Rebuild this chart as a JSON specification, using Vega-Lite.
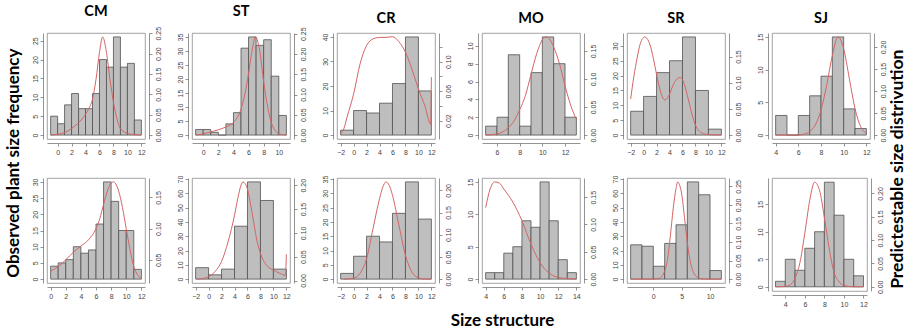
{
"$schema": "https://vega.github.io/schema/vega-lite/v6.json",
"padding": {"left": 3, "top": 3, "right": 4, "bottom": 2},
"background": "white",
"datasets": {
"bars": [
{"p":"CM1","a":-1,"b":0,"n":5},{"p":"CM1","a":0,"b":1,"n":3},{"p":"CM1","a":1,"b":2,"n":8},{"p":"CM1","a":2,"b":3,"n":11},{"p":"CM1","a":3,"b":4,"n":7},{"p":"CM1","a":4,"b":5,"n":7},{"p":"CM1","a":5,"b":6,"n":11},{"p":"CM1","a":6,"b":7,"n":20},{"p":"CM1","a":7,"b":8,"n":18},{"p":"CM1","a":8,"b":9,"n":26},{"p":"CM1","a":9,"b":10,"n":18},{"p":"CM1","a":10,"b":11,"n":19},{"p":"CM1","a":11,"b":12,"n":4},
{"p":"ST1","a":-1,"b":0,"n":2},{"p":"ST1","a":0,"b":1,"n":2},{"p":"ST1","a":1,"b":2,"n":1},{"p":"ST1","a":2,"b":3,"n":0},{"p":"ST1","a":3,"b":4,"n":4},{"p":"ST1","a":4,"b":5,"n":8},{"p":"ST1","a":5,"b":6,"n":31},{"p":"ST1","a":6,"b":7,"n":35},{"p":"ST1","a":7,"b":8,"n":32},{"p":"ST1","a":8,"b":9,"n":34},{"p":"ST1","a":9,"b":10,"n":21},{"p":"ST1","a":10,"b":11,"n":7},
{"p":"CR1","a":-2,"b":0,"n":2},{"p":"CR1","a":0,"b":2,"n":10},{"p":"CR1","a":2,"b":4,"n":9},{"p":"CR1","a":4,"b":6,"n":13},{"p":"CR1","a":6,"b":8,"n":21},{"p":"CR1","a":8,"b":10,"n":40},{"p":"CR1","a":10,"b":12,"n":18},
{"p":"MO1","a":5,"b":6,"n":1},{"p":"MO1","a":6,"b":7,"n":2},{"p":"MO1","a":7,"b":8,"n":9},{"p":"MO1","a":8,"b":9,"n":1},{"p":"MO1","a":9,"b":10,"n":7},{"p":"MO1","a":10,"b":11,"n":11},{"p":"MO1","a":11,"b":12,"n":8},{"p":"MO1","a":12,"b":13,"n":2},
{"p":"SR1","a":-2,"b":0,"n":8},{"p":"SR1","a":0,"b":2,"n":13},{"p":"SR1","a":2,"b":4,"n":21},{"p":"SR1","a":4,"b":6,"n":25},{"p":"SR1","a":6,"b":8,"n":33},{"p":"SR1","a":8,"b":10,"n":15},{"p":"SR1","a":10,"b":12,"n":2},
{"p":"SJ1","a":4,"b":5,"n":3},{"p":"SJ1","a":5,"b":6,"n":0},{"p":"SJ1","a":6,"b":7,"n":3},{"p":"SJ1","a":7,"b":8,"n":6},{"p":"SJ1","a":8,"b":9,"n":9},{"p":"SJ1","a":9,"b":10,"n":15},{"p":"SJ1","a":10,"b":11,"n":4},{"p":"SJ1","a":11,"b":12,"n":1},
{"p":"CM2","a":0,"b":1,"n":4},{"p":"CM2","a":1,"b":2,"n":5},{"p":"CM2","a":2,"b":3,"n":6},{"p":"CM2","a":3,"b":4,"n":10},{"p":"CM2","a":4,"b":5,"n":8},{"p":"CM2","a":5,"b":6,"n":9},{"p":"CM2","a":6,"b":7,"n":17},{"p":"CM2","a":7,"b":8,"n":30},{"p":"CM2","a":8,"b":9,"n":24},{"p":"CM2","a":9,"b":10,"n":15},{"p":"CM2","a":10,"b":11,"n":15},{"p":"CM2","a":11,"b":12,"n":3},
{"p":"ST2","a":-2,"b":0,"n":8},{"p":"ST2","a":0,"b":2,"n":3},{"p":"ST2","a":2,"b":4,"n":7},{"p":"ST2","a":4,"b":6,"n":37},{"p":"ST2","a":6,"b":8,"n":68},{"p":"ST2","a":8,"b":10,"n":55},{"p":"ST2","a":10,"b":12,"n":7},
{"p":"CR2","a":-2,"b":0,"n":2},{"p":"CR2","a":0,"b":2,"n":8},{"p":"CR2","a":2,"b":4,"n":15},{"p":"CR2","a":4,"b":6,"n":13},{"p":"CR2","a":6,"b":8,"n":23},{"p":"CR2","a":8,"b":10,"n":34},{"p":"CR2","a":10,"b":12,"n":21},
{"p":"MO2","a":4,"b":5,"n":1},{"p":"MO2","a":5,"b":6,"n":1},{"p":"MO2","a":6,"b":7,"n":4},{"p":"MO2","a":7,"b":8,"n":5},{"p":"MO2","a":8,"b":9,"n":9},{"p":"MO2","a":9,"b":10,"n":8},{"p":"MO2","a":10,"b":11,"n":15},{"p":"MO2","a":11,"b":12,"n":9},{"p":"MO2","a":12,"b":13,"n":3},{"p":"MO2","a":13,"b":14,"n":1},
{"p":"SR2","a":-4,"b":-2,"n":24},{"p":"SR2","a":-2,"b":0,"n":23},{"p":"SR2","a":0,"b":2,"n":9},{"p":"SR2","a":2,"b":4,"n":25},{"p":"SR2","a":4,"b":6,"n":38},{"p":"SR2","a":6,"b":8,"n":68},{"p":"SR2","a":8,"b":10,"n":59},{"p":"SR2","a":10,"b":12,"n":6},
{"p":"SJ2","a":3,"b":4,"n":1},{"p":"SJ2","a":4,"b":5,"n":5},{"p":"SJ2","a":5,"b":6,"n":3},{"p":"SJ2","a":6,"b":7,"n":7},{"p":"SJ2","a":7,"b":8,"n":10},{"p":"SJ2","a":8,"b":9,"n":19},{"p":"SJ2","a":9,"b":10,"n":13},{"p":"SJ2","a":10,"b":11,"n":5},{"p":"SJ2","a":11,"b":12,"n":2}
],
"dens": [
{"p":"CM1","x":-1,"d":0.0},{"p":"CM1","x":0,"d":0.002},{"p":"CM1","x":1,"d":0.006},{"p":"CM1","x":2,"d":0.016},{"p":"CM1","x":3,"d":0.03},{"p":"CM1","x":4,"d":0.051},{"p":"CM1","x":4.5,"d":0.066},{"p":"CM1","x":5,"d":0.088},{"p":"CM1","x":5.5,"d":0.137},{"p":"CM1","x":6,"d":0.203},{"p":"CM1","x":6.45,"d":0.241},{"p":"CM1","x":7,"d":0.203},{"p":"CM1","x":7.5,"d":0.137},{"p":"CM1","x":8,"d":0.081},{"p":"CM1","x":8.5,"d":0.04},{"p":"CM1","x":9,"d":0.016},{"p":"CM1","x":10,"d":0.004},{"p":"CM1","x":11,"d":0.001},{"p":"CM1","x":12,"d":0.0},
{"p":"ST1","x":-1,"d":0.0},{"p":"ST1","x":0,"d":0.003},{"p":"ST1","x":1,"d":0.008},{"p":"ST1","x":2,"d":0.013},{"p":"ST1","x":3,"d":0.02},{"p":"ST1","x":4,"d":0.031},{"p":"ST1","x":5,"d":0.064},{"p":"ST1","x":5.5,"d":0.1},{"p":"ST1","x":6,"d":0.152},{"p":"ST1","x":6.5,"d":0.212},{"p":"ST1","x":6.9,"d":0.242},{"p":"ST1","x":7.5,"d":0.205},{"p":"ST1","x":8,"d":0.131},{"p":"ST1","x":8.5,"d":0.072},{"p":"ST1","x":9,"d":0.031},{"p":"ST1","x":9.5,"d":0.012},{"p":"ST1","x":10,"d":0.003},{"p":"ST1","x":11,"d":0.0},
{"p":"CR1","x":-2,"d":0.002},{"p":"CR1","x":-1.5,"d":0.009},{"p":"CR1","x":-1,"d":0.025},{"p":"CR1","x":0,"d":0.056},{"p":"CR1","x":1,"d":0.097},{"p":"CR1","x":2,"d":0.122},{"p":"CR1","x":3,"d":0.131},{"p":"CR1","x":4,"d":0.133},{"p":"CR1","x":5,"d":0.133},{"p":"CR1","x":6,"d":0.134},{"p":"CR1","x":7,"d":0.127},{"p":"CR1","x":8,"d":0.113},{"p":"CR1","x":9,"d":0.09},{"p":"CR1","x":10,"d":0.063},{"p":"CR1","x":11,"d":0.04},{"p":"CR1","x":11.9,"d":0.015},{"p":"CR1","x":12,"d":0.079},
{"p":"MO1","x":5,"d":0.0},{"p":"MO1","x":6,"d":0.002},{"p":"MO1","x":7,"d":0.013},{"p":"MO1","x":7.5,"d":0.025},{"p":"MO1","x":8,"d":0.045},{"p":"MO1","x":8.5,"d":0.07},{"p":"MO1","x":9,"d":0.108},{"p":"MO1","x":9.5,"d":0.145},{"p":"MO1","x":10,"d":0.17},{"p":"MO1","x":10.3,"d":0.175},{"p":"MO1","x":10.6,"d":0.172},{"p":"MO1","x":11,"d":0.157},{"p":"MO1","x":11.5,"d":0.128},{"p":"MO1","x":12,"d":0.088},{"p":"MO1","x":12.5,"d":0.053},{"p":"MO1","x":13,"d":0.028},
{"p":"SR1","x":-2,"d":0.069},{"p":"SR1","x":-1.5,"d":0.112},{"p":"SR1","x":-1,"d":0.147},{"p":"SR1","x":-0.5,"d":0.175},{"p":"SR1","x":0.2,"d":0.1875},{"p":"SR1","x":0.5,"d":0.185},{"p":"SR1","x":1,"d":0.172},{"p":"SR1","x":1.5,"d":0.147},{"p":"SR1","x":2,"d":0.116},{"p":"SR1","x":2.5,"d":0.088},{"p":"SR1","x":3,"d":0.07},{"p":"SR1","x":3.3,"d":0.067},{"p":"SR1","x":4,"d":0.078},{"p":"SR1","x":4.5,"d":0.094},{"p":"SR1","x":5,"d":0.105},{"p":"SR1","x":5.6,"d":0.11},{"p":"SR1","x":6,"d":0.106},{"p":"SR1","x":6.5,"d":0.088},{"p":"SR1","x":7,"d":0.063},{"p":"SR1","x":7.5,"d":0.038},{"p":"SR1","x":8,"d":0.019},{"p":"SR1","x":9,"d":0.004},{"p":"SR1","x":10,"d":0.001},{"p":"SR1","x":12,"d":0.0},
{"p":"SJ1","x":4,"d":0.0},{"p":"SJ1","x":6,"d":0.0},{"p":"SJ1","x":6.5,"d":0.002},{"p":"SJ1","x":7,"d":0.008},{"p":"SJ1","x":7.5,"d":0.023},{"p":"SJ1","x":8,"d":0.057},{"p":"SJ1","x":8.5,"d":0.113},{"p":"SJ1","x":9,"d":0.181},{"p":"SJ1","x":9.5,"d":0.223},{"p":"SJ1","x":10,"d":0.196},{"p":"SJ1","x":10.5,"d":0.128},{"p":"SJ1","x":11,"d":0.06},{"p":"SJ1","x":11.5,"d":0.019},{"p":"SJ1","x":12,"d":0.004},
{"p":"CM2","x":0,"d":0.032},{"p":"CM2","x":1,"d":0.039},{"p":"CM2","x":2,"d":0.05},{"p":"CM2","x":3,"d":0.062},{"p":"CM2","x":4,"d":0.072},{"p":"CM2","x":5,"d":0.082},{"p":"CM2","x":6,"d":0.1},{"p":"CM2","x":6.5,"d":0.116},{"p":"CM2","x":7,"d":0.139},{"p":"CM2","x":7.5,"d":0.16},{"p":"CM2","x":8,"d":0.173},{"p":"CM2","x":8.3,"d":0.175},{"p":"CM2","x":8.6,"d":0.172},{"p":"CM2","x":9,"d":0.16},{"p":"CM2","x":9.5,"d":0.134},{"p":"CM2","x":10,"d":0.1},{"p":"CM2","x":10.5,"d":0.066},{"p":"CM2","x":11,"d":0.039},{"p":"CM2","x":11.5,"d":0.026},{"p":"CM2","x":12,"d":0.019},
{"p":"ST2","x":-1.8,"d":0.003},{"p":"ST2","x":-1,"d":0.004},{"p":"ST2","x":0,"d":0.008},{"p":"ST2","x":1,"d":0.019},{"p":"ST2","x":2,"d":0.04},{"p":"ST2","x":3,"d":0.081},{"p":"ST2","x":4,"d":0.137},{"p":"ST2","x":4.5,"d":0.172},{"p":"ST2","x":5,"d":0.2},{"p":"ST2","x":5.3,"d":0.207},{"p":"ST2","x":5.6,"d":0.204},{"p":"ST2","x":6,"d":0.192},{"p":"ST2","x":6.5,"d":0.158},{"p":"ST2","x":7,"d":0.119},{"p":"ST2","x":7.5,"d":0.081},{"p":"ST2","x":8,"d":0.057},{"p":"ST2","x":9,"d":0.031},{"p":"ST2","x":10,"d":0.022},{"p":"ST2","x":11,"d":0.015},{"p":"ST2","x":11.85,"d":0.011},{"p":"ST2","x":12,"d":0.055},
{"p":"CR2","x":-1.5,"d":0.0},{"p":"CR2","x":0,"d":0.002},{"p":"CR2","x":1,"d":0.013},{"p":"CR2","x":2,"d":0.046},{"p":"CR2","x":3,"d":0.114},{"p":"CR2","x":4,"d":0.181},{"p":"CR2","x":4.5,"d":0.207},{"p":"CR2","x":5,"d":0.219},{"p":"CR2","x":5.5,"d":0.211},{"p":"CR2","x":6,"d":0.189},{"p":"CR2","x":7,"d":0.121},{"p":"CR2","x":8,"d":0.054},{"p":"CR2","x":9,"d":0.016},{"p":"CR2","x":10,"d":0.003},{"p":"CR2","x":11,"d":0.0},{"p":"CR2","x":12,"d":0.0},
{"p":"MO2","x":4,"d":0.131},{"p":"MO2","x":4.5,"d":0.165},{"p":"MO2","x":5,"d":0.178},{"p":"MO2","x":5.5,"d":0.176},{"p":"MO2","x":6,"d":0.165},{"p":"MO2","x":7,"d":0.141},{"p":"MO2","x":8,"d":0.107},{"p":"MO2","x":9,"d":0.064},{"p":"MO2","x":10,"d":0.03},{"p":"MO2","x":11,"d":0.011},{"p":"MO2","x":12,"d":0.003},{"p":"MO2","x":13,"d":0.001},{"p":"MO2","x":14,"d":0.0},
{"p":"SR2","x":-4,"d":0.0},{"p":"SR2","x":0,"d":0.0},{"p":"SR2","x":1,"d":0.002},{"p":"SR2","x":2,"d":0.021},{"p":"SR2","x":2.5,"d":0.053},{"p":"SR2","x":3,"d":0.116},{"p":"SR2","x":3.5,"d":0.189},{"p":"SR2","x":4,"d":0.244},{"p":"SR2","x":4.3,"d":0.262},{"p":"SR2","x":4.6,"d":0.255},{"p":"SR2","x":5,"d":0.23},{"p":"SR2","x":5.5,"d":0.166},{"p":"SR2","x":6,"d":0.098},{"p":"SR2","x":6.5,"d":0.048},{"p":"SR2","x":7,"d":0.021},{"p":"SR2","x":8,"d":0.003},{"p":"SR2","x":9,"d":0.0},{"p":"SR2","x":12,"d":0.0},
{"p":"SJ2","x":3,"d":0.0},{"p":"SJ2","x":4,"d":0.001},{"p":"SJ2","x":4.5,"d":0.004},{"p":"SJ2","x":5,"d":0.019},{"p":"SJ2","x":5.5,"d":0.052},{"p":"SJ2","x":6,"d":0.115},{"p":"SJ2","x":6.5,"d":0.185},{"p":"SJ2","x":7,"d":0.224},{"p":"SJ2","x":7.5,"d":0.207},{"p":"SJ2","x":8,"d":0.148},{"p":"SJ2","x":8.5,"d":0.081},{"p":"SJ2","x":9,"d":0.03},{"p":"SJ2","x":9.5,"d":0.011},{"p":"SJ2","x":10,"d":0.003},{"p":"SJ2","x":11,"d":0.0},{"p":"SJ2","x":12,"d":0.0}
]
},
"columns": 6,
"spacing": {"row": 39, "column": 47},
"bounds": "flush",
"concat": [
{"width": 98, "height": 106, "title": {"text": "CM"},
 "layer": [
  {"data": {"name": "bars"}, "transform": [{"filter": "datum.p==='CM1'"}], "mark": {"type": "rect", "fill": "#bebebe", "stroke": "#505050", "strokeWidth": 0.8},
   "encoding": {"x": {"field": "a", "type": "quantitative", "title": null, "scale": {"domain": [-1.52, 12.52], "nice": false, "zero": false}, "axis": {"values": [0,2,4,6,8,10,12], "labelOverlap": false}}, "x2": {"field": "b"},
    "y": {"field": "n", "type": "quantitative", "title": "Observed plant size frequency", "scale": {"domain": [-1.04, 27.04], "nice": false, "zero": false}, "axis": {"values": [0,5,10,15,20,25], "titleAnchor": "end", "titleAlign": "right", "titleAngle": 270, "titleY": 15, "titlePadding": 9, "titleFont": "Lato", "titleFontSize": 17, "titleFontWeight": "bold", "titleColor": "#000000"}}, "y2": {"datum": 0}}},
  {"data": {"name": "dens"}, "transform": [{"filter": "datum.p==='CM1'"}], "mark": {"type": "line", "stroke": "#d46565", "strokeWidth": 1, "interpolate": "monotone", "clip": true},
   "encoding": {"x": {"field": "x", "type": "quantitative", "title": null, "scale": {"domain": [-1.52, 12.52], "nice": false, "zero": false}, "axis": {"values": [0,2,4,6,8,10,12], "labelOverlap": false}},
    "y": {"field": "d", "type": "quantitative", "title": null, "scale": {"domain": [-0.0097, 0.2507], "nice": false, "zero": false}, "axis": {"orient": "right", "values": [0,0.05,0.1,0.15,0.2,0.25], "format": ".2f"}}}}
 ], "resolve": {"scale": {"y": "independent"}}},
{"width": 98, "height": 106, "title": {"text": "ST"},
 "layer": [
  {"data": {"name": "bars"}, "transform": [{"filter": "datum.p==='ST1'"}], "mark": {"type": "rect", "fill": "#bebebe", "stroke": "#505050", "strokeWidth": 0.8},
   "encoding": {"x": {"field": "a", "type": "quantitative", "title": null, "scale": {"domain": [-1.48, 11.48], "nice": false, "zero": false}, "axis": {"values": [0,2,4,6,8,10], "labelOverlap": false}}, "x2": {"field": "b"},
    "y": {"field": "n", "type": "quantitative", "title": null, "scale": {"domain": [-1.4, 36.4], "nice": false, "zero": false}, "axis": {"values": [0,5,10,15,20,25,30,35]}}, "y2": {"datum": 0}}},
  {"data": {"name": "dens"}, "transform": [{"filter": "datum.p==='ST1'"}], "mark": {"type": "line", "stroke": "#d46565", "strokeWidth": 1, "interpolate": "monotone", "clip": true},
   "encoding": {"x": {"field": "x", "type": "quantitative", "title": null, "scale": {"domain": [-1.48, 11.48], "nice": false, "zero": false}, "axis": {"values": [0,2,4,6,8,10], "labelOverlap": false}},
    "y": {"field": "d", "type": "quantitative", "title": null, "scale": {"domain": [-0.0097, 0.2517], "nice": false, "zero": false}, "axis": {"orient": "right", "values": [0,0.05,0.1,0.15,0.2,0.25], "format": ".2f"}}}}
 ], "resolve": {"scale": {"y": "independent"}}},
{"width": 98, "height": 106, "title": {"text": "CR"},
 "layer": [
  {"data": {"name": "bars"}, "transform": [{"filter": "datum.p==='CR1'"}], "mark": {"type": "rect", "fill": "#bebebe", "stroke": "#505050", "strokeWidth": 0.8},
   "encoding": {"x": {"field": "a", "type": "quantitative", "title": null, "scale": {"domain": [-2.56, 12.56], "nice": false, "zero": false}, "axis": {"values": [-2,0,2,4,6,8,10,12], "labelOverlap": false}}, "x2": {"field": "b"},
    "y": {"field": "n", "type": "quantitative", "title": null, "scale": {"domain": [-1.6, 41.6], "nice": false, "zero": false}, "axis": {"values": [0,10,20,30,40]}}, "y2": {"datum": 0}}},
  {"data": {"name": "dens"}, "transform": [{"filter": "datum.p==='CR1'"}], "mark": {"type": "line", "stroke": "#d46565", "strokeWidth": 1, "interpolate": "monotone", "clip": true},
   "encoding": {"x": {"field": "x", "type": "quantitative", "title": null, "scale": {"domain": [-2.56, 12.56], "nice": false, "zero": false}, "axis": {"values": [-2,0,2,4,6,8,10,12], "labelOverlap": false}},
    "y": {"field": "d", "type": "quantitative", "title": null, "scale": {"domain": [-0.005, 0.139], "nice": false, "zero": false}, "axis": {"orient": "right", "values": [0.02,0.04,0.06,0.08,0.1,0.12], "labelExpr": "(abs(datum.value-0.02)<0.001 || abs(datum.value-0.06)<0.001 || abs(datum.value-0.1)<0.001) ? format(datum.value, '.2f') : ''"}}}}
 ], "resolve": {"scale": {"y": "independent"}}},
{"width": 98, "height": 106, "title": {"text": "MO"},
 "layer": [
  {"data": {"name": "bars"}, "transform": [{"filter": "datum.p==='MO1'"}], "mark": {"type": "rect", "fill": "#bebebe", "stroke": "#505050", "strokeWidth": 0.8},
   "encoding": {"x": {"field": "a", "type": "quantitative", "title": null, "scale": {"domain": [4.68, 13.32], "nice": false, "zero": false}, "axis": {"values": [6,8,10,12], "labelOverlap": false}}, "x2": {"field": "b"},
    "y": {"field": "n", "type": "quantitative", "title": null, "scale": {"domain": [-0.44, 11.44], "nice": false, "zero": false}, "axis": {"values": [0,2,4,6,8,10]}}, "y2": {"datum": 0}}},
  {"data": {"name": "dens"}, "transform": [{"filter": "datum.p==='MO1'"}], "mark": {"type": "line", "stroke": "#d46565", "strokeWidth": 1, "interpolate": "monotone", "clip": true},
   "encoding": {"x": {"field": "x", "type": "quantitative", "title": null, "scale": {"domain": [4.68, 13.32], "nice": false, "zero": false}, "axis": {"values": [6,8,10,12], "labelOverlap": false}},
    "y": {"field": "d", "type": "quantitative", "title": null, "scale": {"domain": [-0.007, 0.182], "nice": false, "zero": false}, "axis": {"orient": "right", "values": [0,0.05,0.1,0.15], "format": ".2f"}}}}
 ], "resolve": {"scale": {"y": "independent"}}},
{"width": 98, "height": 106, "title": {"text": "SR"},
 "layer": [
  {"data": {"name": "bars"}, "transform": [{"filter": "datum.p==='SR1'"}], "mark": {"type": "rect", "fill": "#bebebe", "stroke": "#505050", "strokeWidth": 0.8},
   "encoding": {"x": {"field": "a", "type": "quantitative", "title": null, "scale": {"domain": [-2.56, 12.56], "nice": false, "zero": false}, "axis": {"values": [-2,0,2,4,6,8,10,12], "labelOverlap": false}}, "x2": {"field": "b"},
    "y": {"field": "n", "type": "quantitative", "title": null, "scale": {"domain": [-1.32, 34.32], "nice": false, "zero": false}, "axis": {"values": [0,5,10,15,20,25,30]}}, "y2": {"datum": 0}}},
  {"data": {"name": "dens"}, "transform": [{"filter": "datum.p==='SR1'"}], "mark": {"type": "line", "stroke": "#d46565", "strokeWidth": 1, "interpolate": "monotone", "clip": true},
   "encoding": {"x": {"field": "x", "type": "quantitative", "title": null, "scale": {"domain": [-2.56, 12.56], "nice": false, "zero": false}, "axis": {"values": [-2,0,2,4,6,8,10,12], "labelOverlap": false}},
    "y": {"field": "d", "type": "quantitative", "title": null, "scale": {"domain": [-0.0075, 0.195], "nice": false, "zero": false}, "axis": {"orient": "right", "values": [0,0.05,0.1,0.15], "format": ".2f"}}}}
 ], "resolve": {"scale": {"y": "independent"}}},
{"width": 98, "height": 106, "title": {"text": "SJ"},
 "layer": [
  {"data": {"name": "bars"}, "transform": [{"filter": "datum.p==='SJ1'"}], "mark": {"type": "rect", "fill": "#bebebe", "stroke": "#505050", "strokeWidth": 0.8},
   "encoding": {"x": {"field": "a", "type": "quantitative", "title": null, "scale": {"domain": [3.68, 12.32], "nice": false, "zero": false}, "axis": {"values": [4,6,8,10,12], "labelOverlap": false}}, "x2": {"field": "b"},
    "y": {"field": "n", "type": "quantitative", "title": null, "scale": {"domain": [-0.6, 15.6], "nice": false, "zero": false}, "axis": {"values": [0,5,10,15]}}, "y2": {"datum": 0}}},
  {"data": {"name": "dens"}, "transform": [{"filter": "datum.p==='SJ1'"}], "mark": {"type": "line", "stroke": "#d46565", "strokeWidth": 1, "interpolate": "monotone", "clip": true},
   "encoding": {"x": {"field": "x", "type": "quantitative", "title": null, "scale": {"domain": [3.68, 12.32], "nice": false, "zero": false}, "axis": {"values": [4,6,8,10,12], "labelOverlap": false}},
    "y": {"field": "d", "type": "quantitative", "title": "Predictestable size distrivution", "scale": {"domain": [-0.0089, 0.2319], "nice": false, "zero": false}, "axis": {"orient": "right", "values": [0,0.05,0.1,0.15,0.2], "format": ".2f", "titleAnchor": "end", "titleAlign": "right", "titleAngle": 270, "titleY": 16, "titlePadding": 20, "titleFont": "Lato", "titleFontSize": 17.5, "titleFontWeight": "bold", "titleColor": "#000000"}}}}
 ], "resolve": {"scale": {"y": "independent"}}},
{"width": 98, "height": 105,
 "layer": [
  {"data": {"name": "bars"}, "transform": [{"filter": "datum.p==='CM2'"}], "mark": {"type": "rect", "fill": "#bebebe", "stroke": "#505050", "strokeWidth": 0.8},
   "encoding": {"x": {"field": "a", "type": "quantitative", "title": null, "scale": {"domain": [-0.48, 12.48], "nice": false, "zero": false}, "axis": {"values": [0,2,4,6,8,10,12], "labelOverlap": false}}, "x2": {"field": "b"},
    "y": {"field": "n", "type": "quantitative", "title": null, "scale": {"domain": [-1.2, 31.2], "nice": false, "zero": false}, "axis": {"values": [0,5,10,15,20,25,30]}}, "y2": {"datum": 0}}},
  {"data": {"name": "dens"}, "transform": [{"filter": "datum.p==='CM2'"}], "mark": {"type": "line", "stroke": "#d46565", "strokeWidth": 1, "interpolate": "monotone", "clip": true},
   "encoding": {"x": {"field": "x", "type": "quantitative", "title": null, "scale": {"domain": [-0.48, 12.48], "nice": false, "zero": false}, "axis": {"values": [0,2,4,6,8,10,12], "labelOverlap": false}},
    "y": {"field": "d", "type": "quantitative", "title": null, "scale": {"domain": [0.0128, 0.1812], "nice": false, "zero": false}, "axis": {"orient": "right", "values": [0.05,0.1,0.15], "format": ".2f"}}}}
 ], "resolve": {"scale": {"y": "independent"}}},
{"width": 98, "height": 105,
 "layer": [
  {"data": {"name": "bars"}, "transform": [{"filter": "datum.p==='ST2'"}], "mark": {"type": "rect", "fill": "#bebebe", "stroke": "#505050", "strokeWidth": 0.8},
   "encoding": {"x": {"field": "a", "type": "quantitative", "title": null, "scale": {"domain": [-2.56, 12.56], "nice": false, "zero": false}, "axis": {"values": [-2,0,2,4,6,8,10,12], "labelOverlap": false}}, "x2": {"field": "b"},
    "y": {"field": "n", "type": "quantitative", "title": null, "scale": {"domain": [-2.72, 70.72], "nice": false, "zero": false}, "axis": {"values": [0,10,20,30,40,50,60,70]}}, "y2": {"datum": 0}}},
  {"data": {"name": "dens"}, "transform": [{"filter": "datum.p==='ST2'"}], "mark": {"type": "line", "stroke": "#d46565", "strokeWidth": 1, "interpolate": "monotone", "clip": true},
   "encoding": {"x": {"field": "x", "type": "quantitative", "title": null, "scale": {"domain": [-2.56, 12.56], "nice": false, "zero": false}, "axis": {"values": [-2,0,2,4,6,8,10,12], "labelOverlap": false}},
    "y": {"field": "d", "type": "quantitative", "title": null, "scale": {"domain": [-0.0052, 0.2152], "nice": false, "zero": false}, "axis": {"orient": "right", "values": [0,0.05,0.1,0.15,0.2], "format": ".2f"}}}}
 ], "resolve": {"scale": {"y": "independent"}}},
{"width": 98, "height": 105,
 "layer": [
  {"data": {"name": "bars"}, "transform": [{"filter": "datum.p==='CR2'"}], "mark": {"type": "rect", "fill": "#bebebe", "stroke": "#505050", "strokeWidth": 0.8},
   "encoding": {"x": {"field": "a", "type": "quantitative", "title": null, "scale": {"domain": [-2.56, 12.56], "nice": false, "zero": false}, "axis": {"values": [-2,0,2,4,6,8,10,12], "labelOverlap": false}}, "x2": {"field": "b"},
    "y": {"field": "n", "type": "quantitative", "title": null, "scale": {"domain": [-1.36, 35.36], "nice": false, "zero": false}, "axis": {"values": [0,5,10,15,20,25,30,35]}}, "y2": {"datum": 0}}},
  {"data": {"name": "dens"}, "transform": [{"filter": "datum.p==='CR2'"}], "mark": {"type": "line", "stroke": "#d46565", "strokeWidth": 1, "interpolate": "monotone", "clip": true},
   "encoding": {"x": {"field": "x", "type": "quantitative", "title": null, "scale": {"domain": [-2.56, 12.56], "nice": false, "zero": false}, "axis": {"values": [-2,0,2,4,6,8,10,12], "labelOverlap": false}},
    "y": {"field": "d", "type": "quantitative", "title": null, "scale": {"domain": [-0.0088, 0.2278], "nice": false, "zero": false}, "axis": {"orient": "right", "values": [0,0.05,0.1,0.15,0.2], "format": ".2f"}}}}
 ], "resolve": {"scale": {"y": "independent"}}},
{"width": 98, "height": 105,
 "layer": [
  {"data": {"name": "bars"}, "transform": [{"filter": "datum.p==='MO2'"}], "mark": {"type": "rect", "fill": "#bebebe", "stroke": "#505050", "strokeWidth": 0.8},
   "encoding": {"x": {"field": "a", "type": "quantitative", "title": "Size structure", "scale": {"domain": [3.6, 14.4], "nice": false, "zero": false}, "axis": {"values": [4,6,8,10,12,14], "labelOverlap": false, "titleX": 20, "titleAlign": "center", "titlePadding": 13, "titleFont": "Lato", "titleFontSize": 17, "titleFontWeight": "bold", "titleColor": "#000000"}}, "x2": {"field": "b"},
    "y": {"field": "n", "type": "quantitative", "title": null, "scale": {"domain": [-0.6, 15.6], "nice": false, "zero": false}, "axis": {"values": [0,5,10,15]}}, "y2": {"datum": 0}}},
  {"data": {"name": "dens"}, "transform": [{"filter": "datum.p==='MO2'"}], "mark": {"type": "line", "stroke": "#d46565", "strokeWidth": 1, "interpolate": "monotone", "clip": true},
   "encoding": {"x": {"field": "x", "type": "quantitative", "title": "Size structure", "scale": {"domain": [3.6, 14.4], "nice": false, "zero": false}, "axis": {"values": [4,6,8,10,12,14], "labelOverlap": false, "titleX": 20, "titleAlign": "center", "titlePadding": 13, "titleFont": "Lato", "titleFontSize": 17, "titleFontWeight": "bold", "titleColor": "#000000"}},
    "y": {"field": "d", "type": "quantitative", "title": null, "scale": {"domain": [-0.0071, 0.1851], "nice": false, "zero": false}, "axis": {"orient": "right", "values": [0,0.05,0.1,0.15], "format": ".2f"}}}}
 ], "resolve": {"scale": {"y": "independent"}}},
{"width": 98, "height": 105,
 "layer": [
  {"data": {"name": "bars"}, "transform": [{"filter": "datum.p==='SR2'"}], "mark": {"type": "rect", "fill": "#bebebe", "stroke": "#505050", "strokeWidth": 0.8},
   "encoding": {"x": {"field": "a", "type": "quantitative", "title": null, "scale": {"domain": [-4.64, 12.64], "nice": false, "zero": false}, "axis": {"values": [0,5,10], "labelOverlap": false}}, "x2": {"field": "b"},
    "y": {"field": "n", "type": "quantitative", "title": null, "scale": {"domain": [-2.72, 70.72], "nice": false, "zero": false}, "axis": {"values": [0,10,20,30,40,50,60,70]}}, "y2": {"datum": 0}}},
  {"data": {"name": "dens"}, "transform": [{"filter": "datum.p==='SR2'"}], "mark": {"type": "line", "stroke": "#d46565", "strokeWidth": 1, "interpolate": "monotone", "clip": true},
   "encoding": {"x": {"field": "x", "type": "quantitative", "title": null, "scale": {"domain": [-4.64, 12.64], "nice": false, "zero": false}, "axis": {"values": [0,5,10], "labelOverlap": false}},
    "y": {"field": "d", "type": "quantitative", "title": null, "scale": {"domain": [-0.0105, 0.2725], "nice": false, "zero": false}, "axis": {"orient": "right", "values": [0,0.05,0.1,0.15,0.2,0.25], "format": ".2f"}}}}
 ], "resolve": {"scale": {"y": "independent"}}},
{"width": 95, "height": 113,
 "layer": [
  {"data": {"name": "bars"}, "transform": [{"filter": "datum.p==='SJ2'"}], "mark": {"type": "rect", "fill": "#bebebe", "stroke": "#505050", "strokeWidth": 0.8},
   "encoding": {"x": {"field": "a", "type": "quantitative", "title": null, "scale": {"domain": [2.64, 12.36], "nice": false, "zero": false}, "axis": {"values": [4,6,8,10,12], "labelOverlap": false}}, "x2": {"field": "b"},
    "y": {"field": "n", "type": "quantitative", "title": null, "scale": {"domain": [-0.76, 19.76], "nice": false, "zero": false}, "axis": {"values": [0,5,10,15]}}, "y2": {"datum": 0}}},
  {"data": {"name": "dens"}, "transform": [{"filter": "datum.p==='SJ2'"}], "mark": {"type": "line", "stroke": "#d46565", "strokeWidth": 1, "interpolate": "monotone", "clip": true},
   "encoding": {"x": {"field": "x", "type": "quantitative", "title": null, "scale": {"domain": [2.64, 12.36], "nice": false, "zero": false}, "axis": {"values": [4,6,8,10,12], "labelOverlap": false}},
    "y": {"field": "d", "type": "quantitative", "title": null, "scale": {"domain": [-0.009, 0.233], "nice": false, "zero": false}, "axis": {"orient": "right", "values": [0,0.05,0.1,0.15,0.2], "format": ".2f"}}}}
 ], "resolve": {"scale": {"y": "independent"}}}
],
"config": {
 "font": "Liberation Sans",
 "view": {"stroke": "#8c8c8c", "strokeWidth": 0.8},
 "title": {"font": "Lato", "fontWeight": "bold", "fontSize": 14.5, "color": "#000000", "offset": 7},
 "axis": {"labelFontSize": 7, "labelColor": "#444444", "labelFont": "Liberation Sans", "tickColor": "#666666", "domainColor": "#666666", "tickSize": 3, "tickWidth": 0.7, "domainWidth": 0.7, "grid": false, "offset": 4, "labelOverlap": false, "labelFlush": false, "labelBound": false, "labelPadding": 2, "labelSeparation": 0},
 "axisX": {"labelOverlap": false},
 "axisY": {"labelAngle": 270, "labelOverlap": false}
}
}
